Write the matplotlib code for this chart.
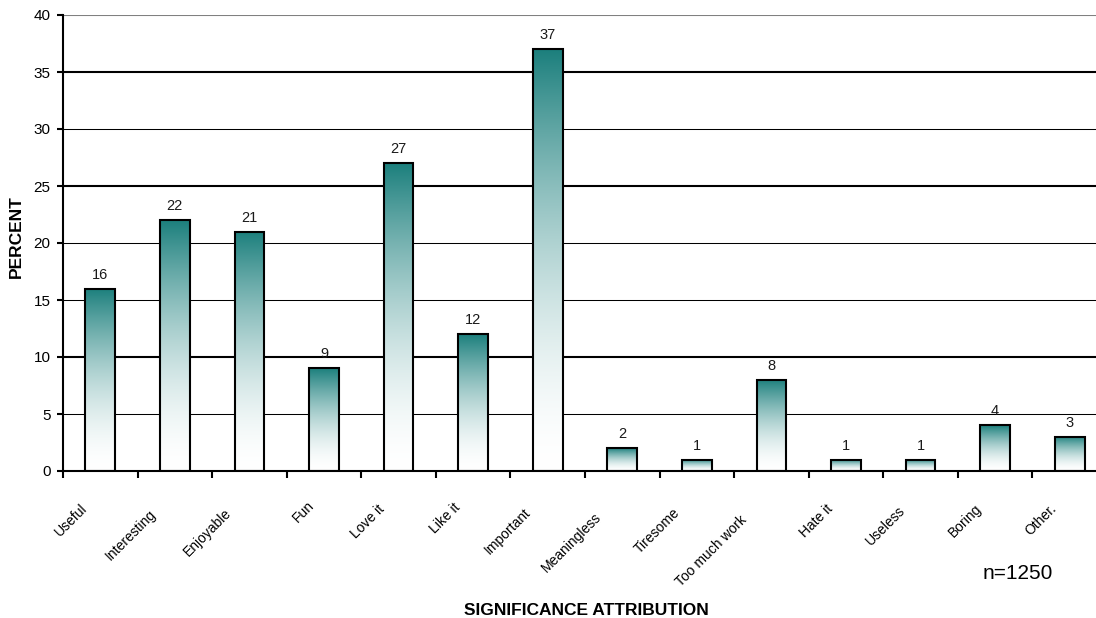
import matplotlib
matplotlib.use("Agg")
import matplotlib.pyplot as plt
import matplotlib.transforms as mtransforms
import numpy as np
from matplotlib.font_manager import FontProperties
from matplotlib.textpath import TextPath

plt.rcParams["font.family"] = ["Liberation Sans", "DejaVu Sans"]

categories = ["Useful", "Interesting", "Enjoyable", "Fun", "Love it", "Like it",
              "Important", "Meaningless", "Tiresome", "Too much work", "Hate it",
              "Useless", "Boring", "Other."]
percent = [16, 22, 21, 9, 27, 12, 37, 2, 1, 8, 1, 1, 4, 3]
y_ticks = [0, 5, 10, 15, 20, 25, 30, 35, 40]
y_tick_labels = ["0", "5", "10", "15", "20", "25", "30", "35", "40"]
sample_note = "n=1250"

DPI = 100
fig = plt.figure(figsize=(10.96, 6.18), dpi=DPI)
W, H = 1096, 618
# plot area runs a little past the right edge of the canvas
left_px, right_px, top_px, bottom_px = 63, 1107, 15, 471
ax = fig.add_axes([left_px / W, 1 - bottom_px / H,
                   (right_px - left_px) / W, (bottom_px - top_px) / H])

n = len(categories)
x = np.arange(n)
bar_w = 0.40

teal = np.array([0.11, 0.50, 0.49])
white = np.array([1.0, 1.0, 1.0])
t = np.linspace(0, 1, 256)[:, None]
fade = (1 - t) ** 1.7
grad = white + (teal - white) * fade
grad_img = np.repeat(grad[:, None, :], 2, axis=1)

# horizontal gridlines
grid_widths = {5: 0.75, 10: 1.5, 15: 0.75, 20: 0.75, 25: 1.5, 30: 0.75, 35: 1.5}
for yv in y_ticks[1:-1]:
    ax.axhline(yv, color="black", lw=grid_widths[yv], zorder=1)
ax.axhline(y_ticks[-1], color="#808080", lw=1.5, zorder=1)

for xi, v in zip(x, percent):
    ax.imshow(grad_img, extent=(xi - bar_w / 2, xi + bar_w / 2, 0, v),
              aspect="auto", interpolation="bilinear", zorder=2)
ax.bar(x, percent, width=bar_w, facecolor="none", edgecolor="black",
       linewidth=1.5, zorder=3)

for xi, v in zip(x, percent):
    ax.annotate(f"{v}", (xi, v), xytext=(0, 5), textcoords="offset points",
                ha="center", va="bottom", fontsize=10.5, color="#1a1a1a")

ax.set_xlim(-0.5, n - 0.5)
ax.set_ylim(0, 40)
ax.set_yticks(y_ticks)
ax.set_yticklabels(y_tick_labels, fontsize=11)
ax.set_xticks(np.arange(n) - 0.5)
ax.set_xticklabels([])
ax.tick_params(axis="y", direction="out", length=4, width=1.5, pad=5, color="black")
ax.tick_params(axis="x", direction="out", length=5, width=1.5, color="black")

for side in ("top", "right"):
    ax.spines[side].set_visible(False)
for side in ("left", "bottom"):
    ax.spines[side].set_linewidth(1.5)
    ax.spines[side].set_zorder(4)

# rotated category labels, stepped down-left by their length
lab_fs = 10
fp = FontProperties(family="Liberation Sans", size=lab_fs)
for xi, name in zip(x, categories):
    L = TextPath((0, 0), name, size=lab_fs, prop=fp).get_extents().width * DPI / 72
    dx = (-7.5 - 0.21 * L) * 72 / DPI
    dy = -(27.5 + 0.21 * L) * 72 / DPI
    trans = mtransforms.offset_copy(ax.transData, fig=fig, x=dx, y=dy, units="points")
    ax.text(xi, 0, name, transform=trans, rotation=45, rotation_mode="anchor",
            ha="right", va="center", fontsize=lab_fs, color="black", clip_on=False)

fig.text(16.5 / W, 1 - 237 / H, "PERCENT", rotation=90, ha="center", va="center",
         fontsize=12.5, fontweight="bold")
fig.text(586 / W, 1 - 615 / H, "SIGNIFICANCE ATTRIBUTION", ha="center", va="baseline",
         fontsize=12.5, fontweight="bold")
fig.text(983 / W, 1 - 579 / H, sample_note, ha="left", va="baseline", fontsize=15)

fig.savefig("out.png", dpi=DPI, facecolor="white")
